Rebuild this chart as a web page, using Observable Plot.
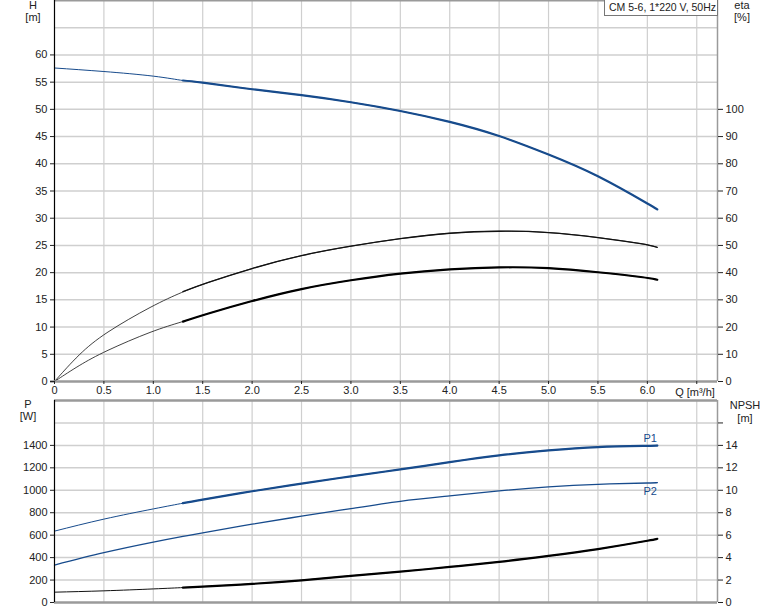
<!DOCTYPE html>
<html><head><meta charset="utf-8">
<script src="https://cdn.jsdelivr.net/npm/d3@7"></script>
<script src="https://cdn.jsdelivr.net/npm/@observablehq/plot@0.6"></script>
<style>
body{margin:0;background:#fff;font-family:"Liberation Sans",Arial,sans-serif;}
#wrap{position:relative;width:774px;height:611px;overflow:hidden;background:#fff}
.lbl{position:absolute;font-size:11px;color:#222;text-align:center;line-height:12px;white-space:nowrap}
#topPanel,#botPanel{position:absolute;left:0}
#title{position:absolute;left:604px;top:-1px;width:108px;height:15px;border:1px solid #777;background:#fff;font-size:10.5px;line-height:15px;padding-left:4px;color:#222;white-space:nowrap}
</style></head><body>
<div id="wrap">
<div id="topPanel" style="top:0"></div>
<div id="botPanel" style="top:398px"></div>
<div class="lbl" style="left:20px;top:-1px;width:26px">H<br>[m]</div>
<div class="lbl" style="left:727px;top:-1px;width:30px">eta<br>[%]</div>
<div class="lbl" style="left:14px;top:398px;width:28px">P<br>[W]</div>
<div class="lbl" style="left:727px;top:399px;width:36px;line-height:13px">NPSH<br>[m]</div>
<div class="lbl" style="left:665px;top:386px;width:60px">Q [m³/h]</div>
<div id="title">CM 5-6, 1*220 V, 50Hz</div>
</div>
<script>
// ---- data ----
const qH = [0, 0.5, 1.0, 1.3, 1.5, 2.0, 2.5, 3.0, 3.5, 4.0, 4.5, 5.0, 5.5, 6.0, 6.1];
const H  = [57.6, 56.95, 56.1, 55.3, 54.9, 53.7, 52.6, 51.3, 49.7, 47.7, 45.1, 41.7, 37.7, 32.7, 31.6];

const qE   = [0, 0.25, 0.5, 1.0, 1.3, 1.5, 2.0, 2.5, 3.0, 3.5, 4.0, 4.5, 5.0, 5.5, 6.0, 6.1];
const etaPump  = [0, 10.2, 17.7, 28.1, 33.0, 35.8, 41.7, 46.5, 49.8, 52.6, 54.7, 55.4, 55.0, 53.0, 50.4, 49.3];
const etaTotal = [0, 6.0, 11.0, 18.8, 22.0, 24.4, 29.7, 34.2, 37.3, 39.8, 41.3, 42.1, 41.9, 40.2, 38.2, 37.4];

const qP   = [0, 0.5, 1.0, 1.3, 1.5, 2.0, 2.5, 3.0, 3.5, 4.0, 4.5, 5.0, 5.5, 6.0, 6.1];
const P1   = [636, 743, 834, 885, 917, 991, 1059, 1124, 1186, 1251, 1311, 1355, 1385, 1396, 1399];
const P2   = [334, 444, 538, 589, 621, 698, 769, 837, 902, 950, 994, 1030, 1053, 1065, 1068];
const NPSH = [0.92, 1.04, 1.21, 1.33, 1.42, 1.66, 1.98, 2.38, 2.75, 3.17, 3.62, 4.15, 4.76, 5.5, 5.68];

const qTicks   = [0, 0.5, 1, 1.5, 2, 2.5, 3, 3.5, 4, 4.5, 5, 5.5, 6, 6.5];
const hTicks   = [0, 5, 10, 15, 20, 25, 30, 35, 40, 45, 50, 55, 60];
const etaTicks = [0, 10, 20, 30, 40, 50, 60, 70, 80, 90, 100];
const pTicks   = [0, 200, 400, 600, 800, 1000, 1200, 1400];
const npshTicks = [0, 2, 4, 6, 8, 10, 12, 14, 16];

const qMax = 6.71, hMax = 70, pMax = 1800;
const BLUE = "#174b8c", GRID = "#cfcfcf", FRAME = "#9a9a9a";
const thick = (d) => d.q >= 1.3;

const hRows = qH.map((q, i) => ({q, v: H[i]}));
const e1Rows = qE.map((q, i) => ({q, v: etaPump[i]}));
const e2Rows = qE.map((q, i) => ({q, v: etaTotal[i]}));
const p1Rows = qP.map((q, i) => ({q, v: P1[i]}));
const p2Rows = qP.map((q, i) => ({q, v: P2[i]}));
const nRows = qP.map((q, i) => ({q, v: NPSH[i]}));

const style = {fontFamily: "Liberation Sans, Arial, sans-serif", fontSize: "11px", color: "#222", background: "transparent", overflow: "visible"};
const curve = "natural";
const ecurve = "basis";

// ---- top panel: H and eta ----
const topChart = Plot.plot({
  width: 774, height: 400,
  marginLeft: 54, marginRight: 57, marginTop: 0, marginBottom: 19,
  style,
  x: {domain: [0, qMax]},
  y: {domain: [0, hMax]},
  marks: [
    Plot.ruleX(qTicks.filter(d => d > 0), {stroke: GRID, strokeWidth: 1.2}),
    Plot.ruleY(d3.range(5, 70, 5), {stroke: GRID, strokeWidth: 1.5}),
    Plot.ruleY([hMax], {stroke: FRAME, strokeWidth: 2}),
    Plot.line(e1Rows, {x: "q", y: d => d.v / 2, stroke: "#111", strokeWidth: 0.8, curve: ecurve}),
    Plot.line(e1Rows.filter(thick), {x: "q", y: d => d.v / 2, stroke: "#111", strokeWidth: 1.3, curve: ecurve}),
    Plot.line(e2Rows, {x: "q", y: d => d.v / 2, stroke: "#111", strokeWidth: 0.8, curve: ecurve}),
    Plot.line(e2Rows.filter(thick), {x: "q", y: d => d.v / 2, stroke: "#000", strokeWidth: 2.2, curve: ecurve}),
    Plot.line(hRows, {x: "q", y: "v", stroke: BLUE, strokeWidth: 1, curve}),
    Plot.line(hRows.filter(thick), {x: "q", y: "v", stroke: BLUE, strokeWidth: 2.2, curve}),
    Plot.ruleX([0], {stroke: "#000", strokeWidth: 1.2}),
    Plot.ruleX([qMax], {stroke: FRAME, strokeWidth: 1.5}),
    Plot.ruleY([0], {stroke: FRAME, strokeWidth: 2.5, x1: -0.04, x2: qMax}),
    Plot.axisY(hTicks, {anchor: "left", tickSize: 4, tickPadding: 3, label: null}),
    Plot.axisY(etaTicks.map(d => d / 2), {anchor: "right", tickSize: 5, tickPadding: 3, label: null, tickFormat: d => String(d * 2)}),
    Plot.axisX(qTicks, {anchor: "bottom", tickSize: 3, tickPadding: 2, label: null,
      tickFormat: d => d === 0 ? "0" : (d > 6.2 ? "" : d.toFixed(1))})
  ]
});
document.getElementById("topPanel").appendChild(topChart);

// ---- bottom panel: P and NPSH ----
const botChart = Plot.plot({
  width: 774, height: 213,
  marginLeft: 54, marginRight: 57, marginTop: 2, marginBottom: 9,
  style,
  x: {domain: [0, qMax], axis: null},
  y: {domain: [0, pMax]},
  marks: [
    Plot.ruleX(qTicks.filter(d => d > 0), {stroke: GRID, strokeWidth: 1.2}),
    Plot.ruleY(d3.range(200, 1800, 200), {stroke: GRID, strokeWidth: 1.5}),
    Plot.line(nRows, {x: "q", y: d => d.v * 100, stroke: "#111", strokeWidth: 1, curve}),
    Plot.line(nRows.filter(thick), {x: "q", y: d => d.v * 100, stroke: "#000", strokeWidth: 2.2, curve}),
    Plot.line(p2Rows, {x: "q", y: "v", stroke: BLUE, strokeWidth: 1.3, curve}),
    Plot.line(p1Rows, {x: "q", y: "v", stroke: BLUE, strokeWidth: 1, curve}),
    Plot.line(p1Rows.filter(thick), {x: "q", y: "v", stroke: BLUE, strokeWidth: 2.2, curve}),
    Plot.text([p1Rows[p1Rows.length - 1]], {x: "q", y: "v", text: () => "P1", fill: BLUE, dx: -7, dy: -7, fontSize: 11}),
    Plot.text([p2Rows[p2Rows.length - 1]], {x: "q", y: "v", text: () => "P2", fill: BLUE, dx: -7, dy: 9, fontSize: 11}),
    Plot.ruleY([pMax], {stroke: FRAME, strokeWidth: 2.5}),
    Plot.ruleY([0], {stroke: FRAME, strokeWidth: 2.5}),
    Plot.ruleX([0], {stroke: "#000", strokeWidth: 1.2}),
    Plot.ruleX([qMax], {stroke: FRAME, strokeWidth: 1.5}),
    Plot.axisY(pTicks, {anchor: "left", tickSize: 4, tickPadding: 3, label: null, tickFormat: d => String(d)}),
    Plot.axisY(npshTicks.map(d => d * 100), {anchor: "right", tickSize: 5, tickPadding: 3, label: null,
      tickFormat: d => d >= 1600 ? "" : String(d / 100)})
  ]
});
document.getElementById("botPanel").appendChild(botChart);
</script>
</body></html>
